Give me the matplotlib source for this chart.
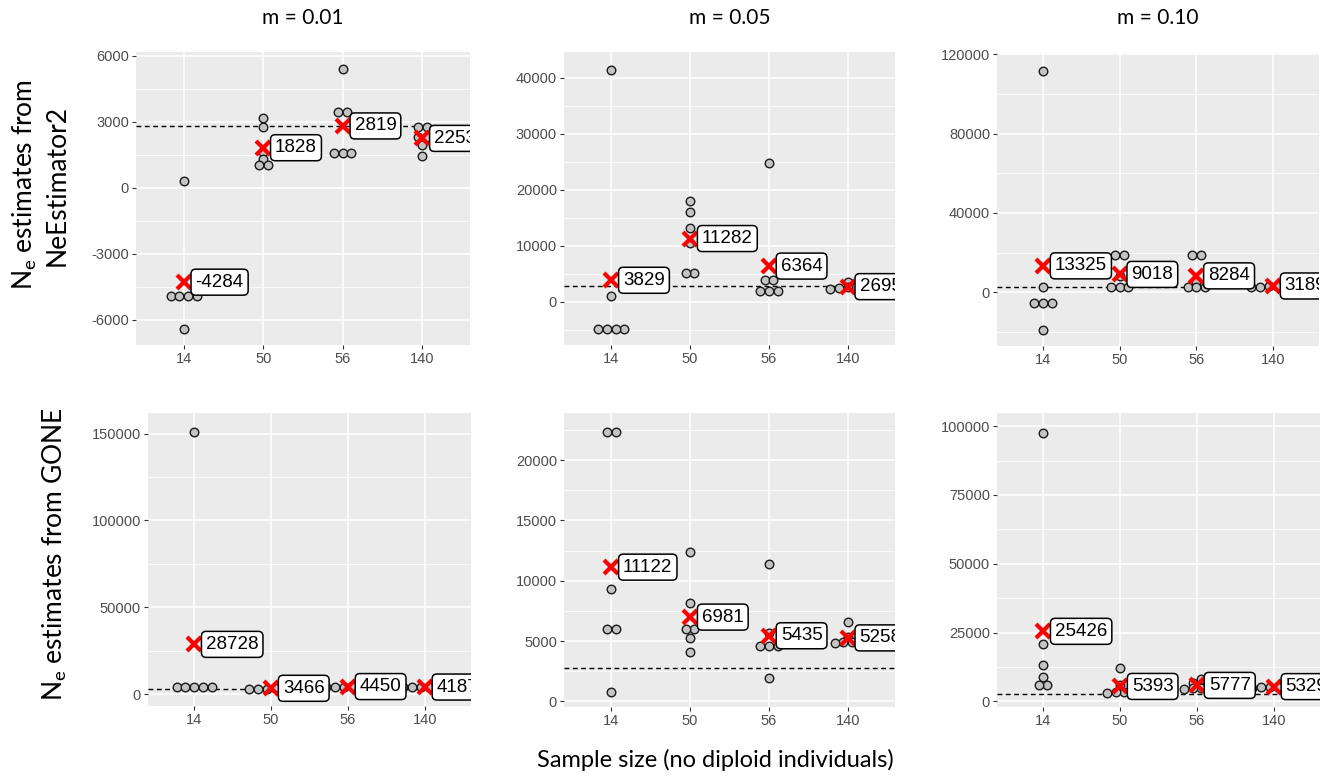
import numpy as np
import matplotlib
matplotlib.use("Agg")
import matplotlib.pyplot as plt
from matplotlib import transforms

# sample sizes (x categories) and migration rates (columns)
sizes = ["14", "50", "56", "140"]
migration = ["m = 0.01", "m = 0.05", "m = 0.10"]
true_ne = 2800

# NeEstimator2 replicate estimates, one list per sample size
ne2_m001 = [[300, -4900, -4900, -4900, -4900, -6400],
            [3200, 2750, 1650, 1300, 1050, 1050],
            [5400, 3450, 3450, 1600, 1600, 1600],
            [2750, 2750, 2300, 2300, 1950, 1450]]
ne2_m005 = [[41400, 1000, -4850, -4850, -4850, -4850],
            [17900, 16000, 13200, 10400, 5050, 5050],
            [24700, 3900, 3900, 1900, 1900, 1900],
            [3500, 2700, 2700, 2600, 2400, 2300]]
ne2_m010 = [[111500, 2800, -5200, -5200, -5200, -19000],
            [18800, 18800, 8000, 2800, 2800, 2800],
            [18800, 18800, 5000, 2500, 2500, 2500],
            [3800, 3500, 3300, 3000, 2800, 2800]]

# GONE replicate estimates
gone_m001 = [[150700, 4400, 4400, 4400, 4400, 4400],
             [4200, 3900, 3600, 3300, 2900, 2900],
             [4800, 4800, 4500, 4300, 4200, 4100],
             [4400, 4300, 4200, 4100, 4100, 4000]]
gone_m005 = [[22300, 22300, 9300, 6000, 6000, 800],
             [12400, 8150, 6000, 6000, 5250, 4050],
             [11400, 5700, 4550, 4550, 4550, 1900],
             [6600, 5300, 5000, 4900, 4900, 4850]]
gone_m010 = [[97500, 20800, 13200, 9000, 6000, 6000],
             [12000, 6000, 4500, 3500, 3300, 3100],
             [8100, 6500, 5800, 5000, 4800, 4500],
             [5900, 5500, 5300, 5200, 5100, 5000]]

# mean estimates shown with red crosses and labels
ne2_m001_mean = [-4284, 1828, 2819, 2253]
ne2_m005_mean = [3829, 11282, 6364, 2695]
ne2_m010_mean = [13325, 9018, 8284, 3189]
gone_m001_mean = [28728, 3466, 4450, 4187]
gone_m005_mean = [11122, 6981, 5435, 5258]
gone_m010_mean = [25426, 5393, 5777, 5329]

estimates = [[ne2_m001, ne2_m005, ne2_m010], [gone_m001, gone_m005, gone_m010]]
means = [[ne2_m001_mean, ne2_m005_mean, ne2_m010_mean],
         [gone_m001_mean, gone_m005_mean, gone_m010_mean]]

# layout: panel boxes in pixels (x0, y0, x1, y1), y limits and tick step
W, H = 1336, 777
boxes = [[(136, 52, 470, 345), (564, 52, 895, 345), (997, 53, 1319, 346)],
         [(148, 413, 471, 706), (564, 413, 895, 707), (997, 413, 1320, 707)]]
ylims = [[(-7140, 6180), (-7730, 44600), (-27060, 120600)],
         [(-6720, 161800), (-470, 23900), (-2080, 104800)]]
ysteps = [[3000, 10000, 40000], [50000, 5000, 25000]]

BG = "#EBEBEB"
TICK = "#4D4D4D"
LAB_FONT = "Liberation Sans"
TITLE_FONT = "Lato"
DOT_PX = 8.7


def row_offsets(vals, px_per_y, dx):
    # simple beeswarm: points within a few pixels share a row, centred
    vals = np.asarray(vals, dtype=float)
    order = np.argsort(vals)
    offs = np.zeros(len(vals))
    rows, cur = [], [order[0]]
    for i in order[1:]:
        if (vals[i] - vals[cur[0]]) * px_per_y < 4.5:
            cur.append(i)
        else:
            rows.append(cur)
            cur = [i]
    rows.append(cur)
    for row in rows:
        n = len(row)
        for k, idx in enumerate(row):
            offs[idx] = (k - (n - 1) / 2) * dx
    return offs


fig = plt.figure(figsize=(W / 100, H / 100), dpi=100)

for r in range(2):
    for c in range(3):
        x0, y0, x1, y1 = boxes[r][c]
        ax = fig.add_axes([x0 / W, 1 - y1 / H, (x1 - x0) / W, (y1 - y0) / H])
        ax.set_facecolor(BG)
        for s in ax.spines.values():
            s.set_visible(False)
        lo, hi = ylims[r][c]
        step = ysteps[r][c]
        ax.set_xlim(0.4, len(sizes) + 0.6)
        ax.set_ylim(lo, hi)
        major = np.arange(np.ceil(lo / step) * step, hi + 1, step)
        minor = np.arange(np.ceil(lo / (step / 2)) * (step / 2), hi + 1, step / 2)
        minor = [m for m in minor if m not in major]
        ax.set_yticks(major)
        ax.set_yticks(minor, minor=True)
        ax.set_yticklabels([f"{int(v)}" for v in major])
        ax.set_xticks(np.arange(1, len(sizes) + 1))
        ax.set_xticklabels(sizes)
        ax.grid(True, which="major", color="white", lw=1.1)
        ax.grid(True, which="minor", axis="y", color="white", lw=0.55)
        ax.set_axisbelow(True)
        ax.tick_params(which="major", length=3, width=0.8, color="#333333",
                       labelcolor=TICK, labelsize=10.5, pad=2)
        ax.tick_params(which="minor", length=0)
        for lab in ax.get_xticklabels() + ax.get_yticklabels():
            lab.set_fontfamily(LAB_FONT)

        px_y = (y1 - y0) / (hi - lo)
        dx = DOT_PX / ((x1 - x0) / (len(sizes) + 0.2))

        ax.axhline(true_ne, color="black", lw=1.0, dashes=(3.5, 2.5), zorder=2)

        for i, vals in enumerate(estimates[r][c]):
            offs = row_offsets(vals, px_y, dx)
            ax.scatter(i + 1 + offs, vals, s=38, facecolor="#C4C4C4",
                       edgecolor="#1A1A1A", linewidth=1.0, zorder=3)

        xs = np.arange(1, len(sizes) + 1)
        ax.plot(xs, means[r][c], ls="none", marker="x", ms=10, mew=3.0,
                color="#FF0000", zorder=4)
        shift = transforms.offset_copy(ax.transData, fig=fig, x=8.5, y=0, units="points")
        for xv, mv in zip(xs, means[r][c]):
            ax.text(xv, mv, f"{mv}", transform=shift, ha="left", va="center",
                    fontsize=13.5, family=LAB_FONT, color="black", zorder=5, clip_on=True,
                    bbox=dict(boxstyle="round,pad=0.24,rounding_size=0.25",
                              facecolor="white", edgecolor="black", linewidth=1.1))

# column titles
for c in range(3):
    x0, y0, x1, y1 = boxes[0][c]
    fig.text((x0 + x1) / 2 / W, 1 - 18 / H, migration[c], ha="center", va="center",
             fontsize=15, family=TITLE_FONT)

fig.text(40 / W, 1 - 185 / H, "N$_\\mathregular{e}$ estimates from\nNeEstimator2",
         rotation=90, ha="center", va="center", multialignment="center",
         fontsize=19, family=TITLE_FONT, linespacing=1.25)
fig.text(55 / W, 1 - 554 / H, "N$_\\mathregular{e}$ estimates from GONE",
         rotation=90, ha="center", va="center", fontsize=19, family=TITLE_FONT)
fig.text(715 / W, 1 - 760 / H, "Sample size (no diploid individuals)",
         ha="center", va="center", fontsize=17, family=TITLE_FONT)

fig.savefig("out.png", dpi=100)
